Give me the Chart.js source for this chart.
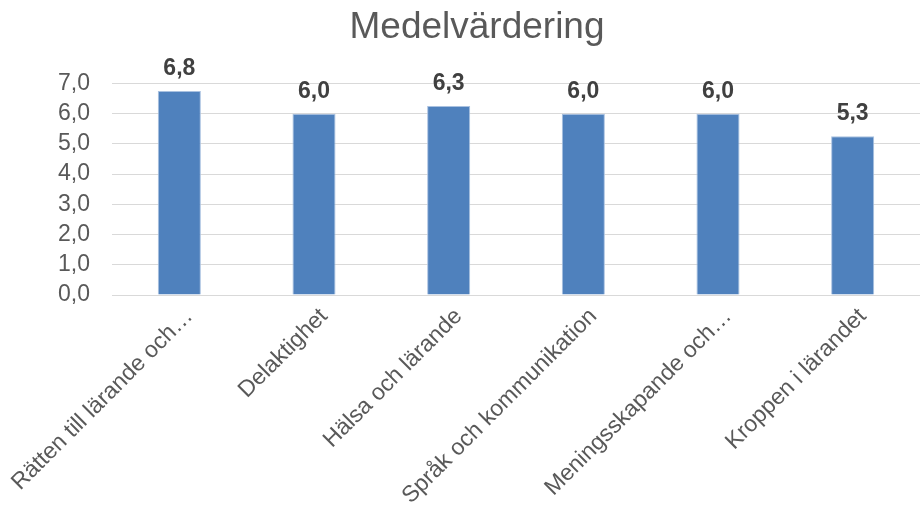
<!DOCTYPE html>
<html>
<head>
<meta charset="utf-8">
<script src="https://cdn.jsdelivr.net/npm/chart.js@4.4.1/dist/chart.umd.min.js"></script>
<style>
  html, body { margin: 0; padding: 0; background: #fff; }
  #wrap { width: 920px; height: 518px; }
</style>
</head>
<body>
<div id="wrap"><canvas id="chart"></canvas></div>
<script>
'use strict';

/* DATA */
const categories = ['Rätten till lärande och…', 'Delaktighet', 'Hälsa och lärande', 'Språk och kommunikation', 'Meningsskapande och…', 'Kroppen i lärandet'];
const ratings = [6.75, 6.0, 6.25, 6.0, 6.0, 5.25];
const yTicks = [0, 1, 2, 3, 4, 5, 6, 7];

const FONT = "'Liberation Sans', Arial, sans-serif";
const fmt = v => Number(v).toFixed(1).replace('.', ',');

/* value labels above the bars */
const valueLabels = {
  id: 'valueLabels',
  afterDatasetsDraw(chart) {
    const ctx = chart.ctx;
    const meta = chart.getDatasetMeta(0);
    ctx.save();
    ctx.font = 'bold 23px ' + FONT;
    ctx.fillStyle = '#404040';
    ctx.textAlign = 'center';
    ctx.textBaseline = 'alphabetic';
    meta.data.forEach((bar, i) => {
      ctx.fillText(fmt(ratings[i]), bar.x, bar.y - 16);
    });
    ctx.restore();
  }
};

new Chart(document.getElementById('chart'), {
  type: 'bar',
  data: {
    labels: categories,
    datasets: [{
      data: ratings,
      backgroundColor: '#4f81bd',
      borderColor: '#a9c1e0',
      borderWidth: 1,
      categoryPercentage: 1,
      barPercentage: 0.32
    }]
  },
  options: {
    responsive: true,
    maintainAspectRatio: false,
    animation: false,
    layout: { padding: { left: 34, right: 0, top: 0, bottom: 0 } },
    plugins: {
      legend: { display: false },
      tooltip: { enabled: false },
      title: {
        display: true,
        text: 'Medelvärdering',
        color: '#595959',
        font: { family: FONT, size: 37, weight: 'normal' },
        padding: { top: 6, bottom: 33 }
      }
    },
    scales: {
      x: {
        afterFit: axis => {
          axis.height = 223;
          axis.paddingLeft = 0;
          axis.paddingRight = 0;
        },
        grid: { display: false },
        border: { color: '#d9d9d9', width: 1 },
        ticks: {
          color: '#595959',
          font: { family: FONT, size: 23 },
          minRotation: 45,
          maxRotation: 45,
          autoSkip: false,
          labelOffset: 10,
          padding: 0
        }
      },
      y: {
        min: 0,
        max: 7,
        afterFit: axis => {
          axis.width = 78;
          axis.paddingTop = 0;
          axis.paddingBottom = 0;
        },
        afterBuildTicks: axis => { axis.ticks = yTicks.map(v => ({ value: v })); },
        grid: { color: '#d9d9d9', lineWidth: 1, drawTicks: false },
        border: { display: false },
        ticks: {
          color: '#595959',
          font: { family: FONT, size: 23 },
          padding: 22,
          autoSkip: false,
          callback: v => fmt(v)
        }
      }
    }
  },
  plugins: [valueLabels]
});
</script>
</body>
</html>
